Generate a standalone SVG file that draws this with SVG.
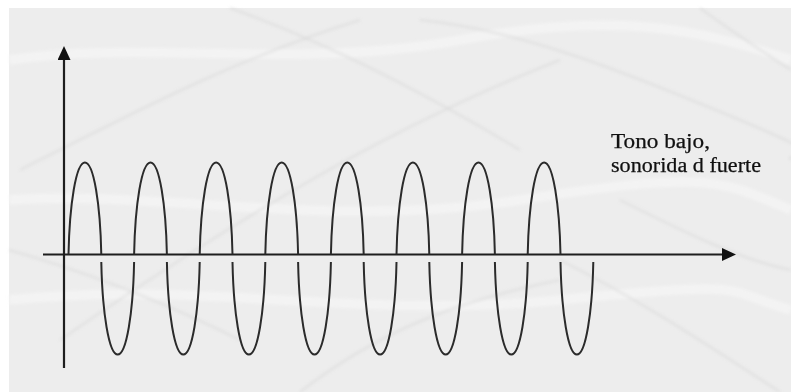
<svg xmlns="http://www.w3.org/2000/svg" width="791" height="392" viewBox="0 0 791 392">
  <style>
    .axis { stroke: #1e1e1e; stroke-width: 2.2; fill: none; }
    .wave { stroke: #2b2b2b; stroke-width: 2; fill: none; }
    .streak { stroke: #d4d4d4; stroke-width: 2.5; fill: none; opacity: 0.45; }
    .glow { stroke: #f6f6f6; stroke-width: 10; fill: none; opacity: 0.6; }
    .label { font-family: "Liberation Serif", "DejaVu Serif", serif; font-size: 20px; fill: #111111; stroke: #111111; stroke-width: 0.25; }
  </style>
  <defs>
    <marker id="arrow" viewBox="0 0 14 13" refX="1" refY="6.5" markerWidth="14" markerHeight="13" markerUnits="userSpaceOnUse" orient="auto">
      <path d="M0,0 L14,6.5 L0,13 Z" fill="#111"/>
    </marker>
    <filter id="soft" x="-10%" y="-10%" width="120%" height="120%">
      <feGaussianBlur stdDeviation="1.8"/>
    </filter>
    <path id="up" d="M0,0 c1,-50 7.5,-92 16.4,-92 s15.4,42 16.4,92"/>
    <path id="down" d="M0,0 c1,50 7.5,92.5 16.4,92.5 s15.4,-42.5 16.4,-92.5"/>
  </defs>

  <g id="background">
    <rect x="0" y="0" width="791" height="392" fill="#ffffff"/>
    <rect x="9" y="8" width="782" height="384" fill="#ededed"/>
    <g filter="url(#soft)">
      <path class="glow" d="M9,60 C150,40 300,70 460,40 S700,30 791,60"/>
      <path class="glow" d="M9,200 C160,190 330,230 520,200 S720,180 791,210"/>
      <path class="glow" d="M9,300 C200,280 360,320 560,300 S720,290 791,310"/>
      <path class="streak" d="M20,170 C120,120 230,60 360,20"/>
      <path class="streak" d="M60,340 C220,230 380,130 560,60"/>
      <path class="streak" d="M230,8 C320,40 420,90 520,150"/>
      <path class="streak" d="M420,20 C520,30 620,70 740,120 S780,150 791,160"/>
      <path class="streak" d="M700,8 C730,30 760,50 791,70"/>
      <path class="streak" d="M560,260 C640,300 700,340 780,392"/>
      <path class="streak" d="M9,250 C80,270 160,300 240,340"/>
      <path class="streak" d="M300,392 C380,330 460,300 560,280"/>
      <path class="streak" d="M620,200 C680,230 740,260 791,270"/>
    </g>
  </g>

  <g id="connectors">
    <line class="axis" x1="64" y1="368" x2="64" y2="59" marker-end="url(#arrow)"/>
    <line class="axis" x1="43" y1="254.5" x2="723" y2="254.5" marker-end="url(#arrow)"/>
  </g>

  <g id="wave" class="wave">
    <use href="#up" x="68.5" y="254.5"/>
    <use href="#up" x="134.1" y="254.5"/>
    <use href="#up" x="199.7" y="254.5"/>
    <use href="#up" x="265.3" y="254.5"/>
    <use href="#up" x="330.9" y="254.5"/>
    <use href="#up" x="396.5" y="254.5"/>
    <use href="#up" x="462.1" y="254.5"/>
    <use href="#up" x="527.7" y="254.5"/>
    <use href="#down" x="101.3" y="262"/>
    <use href="#down" x="166.9" y="262"/>
    <use href="#down" x="232.5" y="262"/>
    <use href="#down" x="298.1" y="262"/>
    <use href="#down" x="363.7" y="262"/>
    <use href="#down" x="429.3" y="262"/>
    <use href="#down" x="494.9" y="262"/>
    <use href="#down" x="560.5" y="262"/>
  </g>

  <g id="label">
    <text class="label" x="611" y="148" textLength="99" lengthAdjust="spacingAndGlyphs">Tono bajo,</text>
    <text class="label" x="611" y="172" textLength="150" lengthAdjust="spacingAndGlyphs">sonorida d fuerte</text>
  </g>
</svg>
